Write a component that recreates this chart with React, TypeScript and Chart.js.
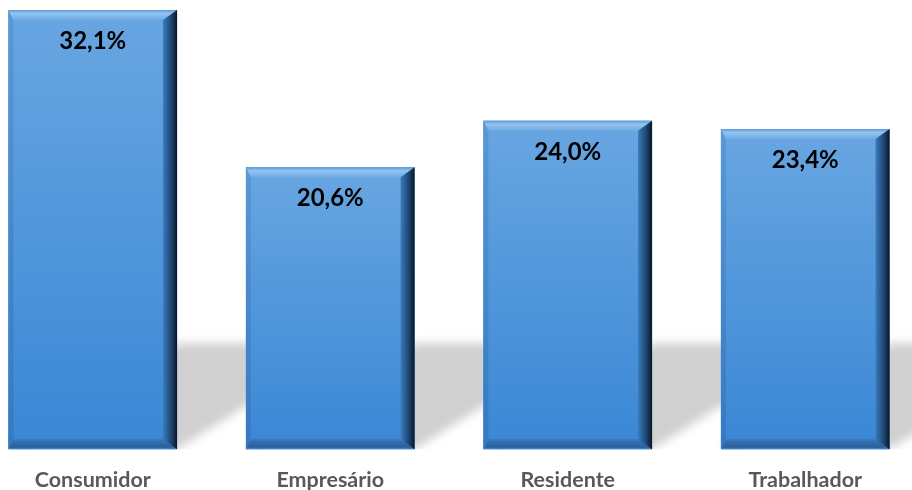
import React, { useEffect, useRef } from "react";
import { Chart, registerables } from "chart.js";

Chart.register(...registerables);

const categories = ["Consumidor", "Empresário", "Residente", "Trabalhador"];
const values = [32.1, 20.6, 24.0, 23.4];
const valueLabels = ["32,1%", "20,6%", "24,0%", "23,4%"];
const yMin = 0;
const yMax = 32.1;

function barRects(chart: any) {
  const meta = chart.getDatasetMeta(0);
  return meta.data.map((el: any) => {
    const p = el.getProps(["x", "y", "base", "width"], true);
    return { L: p.x - p.width / 2, R: p.x + p.width / 2, T: p.y, B: p.base, x: p.x };
  });
}

const shadowPlugin = {
  id: "shadowPlugin",
  beforeDatasetsDraw(chart: any) {
    const ctx = chart.ctx;
    const rects = barRects(chart);
    ctx.save();
    ctx.beginPath();
    ctx.rect(0, 0, chart.width, chart.chartArea.bottom);
    ctx.clip();
    ctx.filter = "blur(5px)";
    rects.forEach((r: any) => {
      const h = Math.min(106, r.B - r.T);
      const s = 1.6;
      ctx.beginPath();
      ctx.moveTo(r.L, r.B);
      ctx.lineTo(r.R, r.B);
      ctx.lineTo(r.R + s * h, r.B - h);
      ctx.lineTo(r.L + s * h, r.B - h);
      ctx.closePath();
      ctx.fillStyle = "#d0d0d0";
      ctx.fill();
    });
    ctx.restore();
  },
};

const bevelPlugin = {
  id: "bevelPlugin",
  afterDatasetsDraw(chart: any) {
    const ctx = chart.ctx;
    const rects = barRects(chart);
    ctx.save();
    rects.forEach((r: any) => {
      const { L, R, T, B } = r;
      const bt = 10, bb = 10, bl = 5, br = 14;
      const face = ctx.createLinearGradient(0, T, 0, B);
      face.addColorStop(0, "#68a6e1");
      face.addColorStop(1, "#3a87d5");
      ctx.fillStyle = face;
      ctx.fillRect(L, T, R - L, B - T);
      // left bevel
      ctx.beginPath();
      ctx.moveTo(L, T);
      ctx.lineTo(L + bl, T + bt);
      ctx.lineTo(L + bl, B - bb);
      ctx.lineTo(L, B);
      ctx.closePath();
      const lg = ctx.createLinearGradient(0, T, 0, B);
      lg.addColorStop(0, "#5a98d6");
      lg.addColorStop(1, "#3479c2");
      ctx.fillStyle = lg;
      ctx.fill();
      // top bevel
      ctx.beginPath();
      ctx.moveTo(L, T);
      ctx.lineTo(R, T);
      ctx.lineTo(R - br, T + bt);
      ctx.lineTo(L + bl, T + bt);
      ctx.closePath();
      const tg = ctx.createLinearGradient(0, T, 0, T + bt);
      tg.addColorStop(0, "#5f9bd6");
      tg.addColorStop(0.35, "#92c4f0");
      tg.addColorStop(1, "#6eaae3");
      ctx.fillStyle = tg;
      ctx.fill();
      // bottom bevel
      ctx.beginPath();
      ctx.moveTo(L, B);
      ctx.lineTo(R, B);
      ctx.lineTo(R - br, B - bb);
      ctx.lineTo(L + bl, B - bb);
      ctx.closePath();
      const bg = ctx.createLinearGradient(0, B - bb, 0, B);
      bg.addColorStop(0, "#3577bd");
      bg.addColorStop(0.8, "#2a5f98");
      bg.addColorStop(1, "#4b8fd4");
      ctx.fillStyle = bg;
      ctx.fill();
      // right bevel
      ctx.beginPath();
      ctx.moveTo(R, T);
      ctx.lineTo(R, B);
      ctx.lineTo(R - br, B - bb);
      ctx.lineTo(R - br, T + bt);
      ctx.closePath();
      const rg = ctx.createLinearGradient(R - br, 0, R, 0);
      rg.addColorStop(0, "#3a7bbd");
      rg.addColorStop(0.6, "#1d4470");
      rg.addColorStop(1, "#0b1624");
      ctx.fillStyle = rg;
      ctx.fill();
    });
    ctx.fillStyle = "#000000";
    ctx.font = "bold 24px Lato, 'Open Sans', sans-serif";
    ctx.textAlign = "center";
    ctx.textBaseline = "middle";
    rects.forEach((r: any, i: number) => {
      ctx.fillText(valueLabels[i], r.x, r.T + 31);
    });
    ctx.restore();
  },
};

export default function App() {
  const canvasRef = useRef<HTMLCanvasElement | null>(null);

  useEffect(() => {
    if (!canvasRef.current) return;
    const chart = new Chart(canvasRef.current, {
      type: "bar",
      data: {
        labels: categories,
        datasets: [
          {
            data: values,
            backgroundColor: "#4a90d9",
            borderWidth: 0,
            categoryPercentage: 1,
            barPercentage: 0.71,
          },
        ],
      },
      options: {
        animation: false,
        responsive: false,
        maintainAspectRatio: false,
        layout: { padding: { top: 10, left: 0, right: 0, bottom: 0 } },
        plugins: {
          legend: { display: false },
          tooltip: { enabled: false },
        },
        scales: {
          y: { display: false, min: yMin, max: yMax },
          x: {
            grid: { display: false, drawTicks: false },
            border: { display: false },
            ticks: {
              color: "#595959",
              padding: 18,
              font: { family: "Lato, 'Open Sans', sans-serif", size: 21.5, weight: "bold", lineHeight: 1.2 },
            },
          },
        },
      },
      plugins: [shadowPlugin, bevelPlugin],
    });
    return () => chart.destroy();
  }, []);

  return (
    <div
      style={{
        position: "fixed",
        left: 0,
        top: 0,
        width: 912,
        height: 490,
        overflow: "hidden",
        background: "#ffffff",
      }}
    >
      <div style={{ position: "absolute", left: -26, top: 0, width: 950, height: 511 }}>
        <canvas ref={canvasRef} width={950} height={511} style={{ width: 950, height: 511 }} />
      </div>
    </div>
  );
}
